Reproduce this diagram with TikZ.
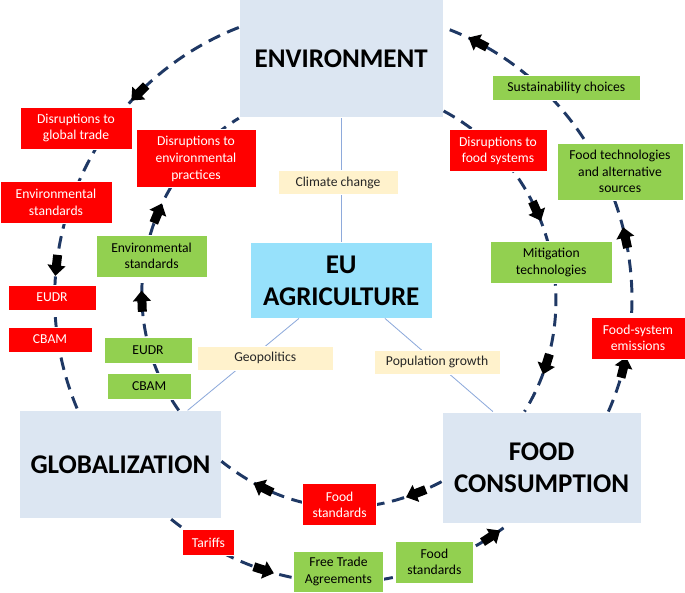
\documentclass[tikz,border=0pt]{standalone}
\usepackage{fontspec}
\setmainfont{Carlito}
\usetikzlibrary{arrows.meta, decorations.markings}
\definecolor{boxblue}{HTML}{DCE6F2}
\definecolor{agriblue}{HTML}{97E1FB}
\definecolor{labelbeige}{HTML}{FFF2CC}
\definecolor{redtagfill}{HTML}{FF0000}
\definecolor{greentagfill}{HTML}{92D050}
\definecolor{loopnavy}{HTML}{1F3864}
\definecolor{linkblue}{HTML}{8EAADB}

\newcommand{\blockarrow}{\fill[black] (-7.5pt,-3.2pt) -- (0pt,-3.2pt) -- (0pt,-6.5pt) -- (7.5pt,0pt) -- (0pt,6.5pt) -- (0pt,3.2pt) -- (-7.5pt,3.2pt) -- cycle;}

\tikzset{
  bigbox/.style={fill=boxblue, draw=white, line width=0.6pt, align=center, font=\fontsize{19.2}{22.8}\selectfont\bfseries},
  tag/.style={draw=white, line width=0.5pt, align=center, inner sep=1pt, font=\fontsize{9.7}{11.8}\selectfont},
  redtag/.style={tag, fill=redtagfill, text=white},
  greentag/.style={tag, fill=greentagfill, text=black},
  beigetag/.style={tag, fill=labelbeige, text=black!85},
  link/.style={draw=linkblue, line width=0.6pt},
  loopline/.style={draw=loopnavy, line width=2.1pt, dash pattern=on 9pt off 5.5pt},
  arrowat/.style={postaction={decorate, decoration={markings, mark=at position #1 with {\blockarrow}}}}
}

\begin{document}
\begin{tikzpicture}
  \useasboundingbox (0,0) rectangle (17.125,14.8);

  % Hlavni bloky
  \node[bigbox, minimum width=5.1cm, minimum height=2.95cm] (env) at (8.53,13.33) {ENVIRONMENT};
  \node[bigbox, fill=agriblue, minimum width=4.55cm, minimum height=1.88cm] (eu) at (8.53,7.79) {EU\\AGRICULTURE};
  \node[bigbox, minimum width=5.03cm, minimum height=2.7cm] (glob) at (3.01,3.18) {GLOBALIZATION};
  \node[bigbox, minimum width=4.98cm, minimum height=2.78cm] (food) at (13.54,3.11) {FOOD\\CONSUMPTION};

  % Vazby na EU agriculture
  \draw[link] (env) -- (eu);
  \draw[link] (eu.222) -- (glob.39);
  \draw[link] (eu.-41) -- (food.131);

  % Vnejsi a vnitrni smycky
  \draw[loopline, arrowat=0.26, arrowat=0.68] (env.163) to[bend right=46] (glob.128);
  \draw[loopline, arrowat=0.35, arrowat=0.62] (glob.43) to[bend left=47] (env.south west);
  \draw[loopline, arrowat=0.10, arrowat=0.38, arrowat=0.92] (food.40) to[bend right=47] (env.17);
  \draw[loopline, arrowat=0.40, arrowat=0.85] (env.-27) to[bend left=47] (food.107);
  \draw[loopline, arrowat=0.12, arrowat=0.79] (food.188) to[bend left=33] (glob.2);
  \draw[loopline, arrowat=0.29, arrowat=0.94] (glob.-47) to[bend right=38] (food.240);

  % Popisky vazeb
  \node[beigetag, minimum width=3cm, minimum height=0.6cm] (clim) at (8.45,10.23) {Climate change};
  \node[beigetag, minimum width=3.4cm, minimum height=0.6cm] (geo) at (6.63,5.85) {Geopolitics};
  \node[beigetag, minimum width=3.15cm, minimum height=0.6cm] (pop) at (10.93,5.75) {Population growth};

  % Leva strana
  \node[redtag, minimum width=2.8cm, minimum height=1.05cm] (disglob) at (1.90,11.60) {Disruptions to\\global trade};
  \node[redtag, minimum width=2.8cm, minimum height=1.03cm] (envstdR) at (1.40,9.74) {Environmental\\standards};
  \node[redtag, minimum width=2.2cm, minimum height=0.63cm] (eudrR) at (1.30,7.36) {EUDR};
  \node[redtag, minimum width=2.1cm, minimum height=0.63cm] (cbamR) at (1.25,6.31) {CBAM};
  \node[redtag, minimum width=3cm, minimum height=1.45cm] (disenv) at (4.90,10.83) {Disruptions to\\environmental\\practices};
  \node[greentag, minimum width=2.78cm, minimum height=1.05cm] (envstdG) at (3.79,8.40) {Environmental\\standards};
  \node[greentag, minimum width=2.2cm, minimum height=0.63cm] (eudrG) at (3.70,6.04) {EUDR};
  \node[greentag, minimum width=2.1cm, minimum height=0.63cm] (cbamG) at (3.73,5.14) {CBAM};

  % Prava strana
  \node[greentag, minimum width=3.68cm, minimum height=0.63cm] (sust) at (14.16,12.61) {Sustainability choices};
  \node[greentag, minimum width=3.15cm, minimum height=1.43cm] (foodtech) at (15.50,10.51) {Food technologies\\and alternative\\sources};
  \node[redtag, minimum width=2.45cm, minimum height=1.05cm] (disfood) at (12.45,11.03) {Disruptions to\\food systems};
  \node[greentag, minimum width=3.05cm, minimum height=1.03cm] (mitig) at (13.78,8.24) {Mitigation\\technologies};
  \node[redtag, minimum width=2.35cm, minimum height=1.05cm] (emis) at (15.95,6.35) {Food-system\\emissions};

  % Dole
  \node[redtag, minimum width=1.85cm, minimum height=1.05cm] (foodstdR) at (8.49,2.18) {Food\\standards};
  \node[redtag, minimum width=1.28cm, minimum height=0.63cm] (tariffs) at (5.21,1.24) {Tariffs};
  \node[greentag, minimum width=2.23cm, minimum height=1.03cm] (fta) at (8.46,0.51) {Free Trade\\Agreements};
  \node[greentag, minimum width=1.93cm, minimum height=1.05cm] (foodstdG) at (10.86,0.75) {Food\\standards};
\end{tikzpicture}
\end{document}
